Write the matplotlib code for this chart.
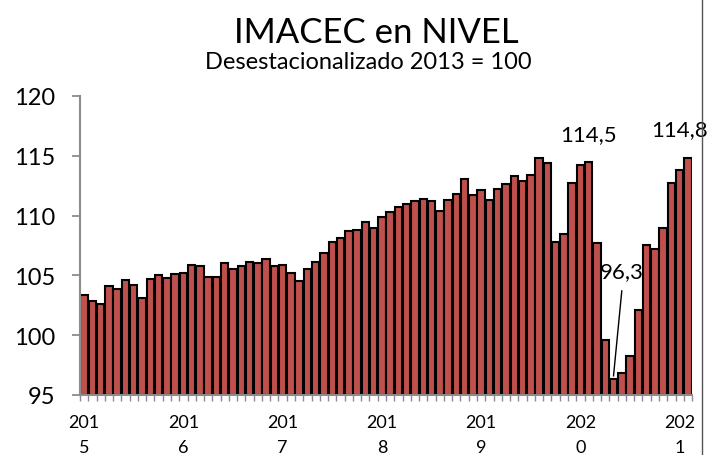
#!/usr/bin/env python3
"""IMACEC en nivel, serie desestacionalizada (2013 = 100), barras mensuales."""

import numpy as np
import matplotlib
matplotlib.use('Agg')
import matplotlib.pyplot as plt
from matplotlib.lines import Line2D

plt.rcParams['font.family'] = ['Lato', 'DejaVu Sans']

# valores mensuales ene-2015 .. feb-2021
v2015 = [103.4, 102.9, 102.6, 104.1, 103.9, 104.6, 104.2, 103.1, 104.7, 105.0, 104.8, 105.1]
v2016 = [105.2, 105.9, 105.8, 104.9, 104.9, 106.0, 105.5, 105.8, 106.1, 106.0, 106.4, 105.8]
v2017 = [105.9, 105.2, 104.5, 105.5, 106.1, 106.9, 107.8, 108.1, 108.7, 108.8, 109.5, 109.0]
v2018 = [109.9, 110.3, 110.7, 111.0, 111.2, 111.4, 111.2, 110.4, 111.3, 111.8, 113.1, 111.7]
v2019 = [112.1, 111.3, 112.2, 112.6, 113.3, 112.9, 113.4, 114.8, 114.4, 107.8, 108.5, 112.7]
v2020 = [114.2, 114.5, 107.7, 99.6, 96.3, 96.8, 98.3, 102.1, 107.5, 107.2, 109.0, 112.7]
v2021 = [113.8, 114.8]
values = v2015 + v2016 + v2017 + v2018 + v2019 + v2020 + v2021

year_labels = ['201\n5', '201\n6', '201\n7', '201\n8', '201\n9', '202\n0', '202\n1']

# etiquetas de datos: (indice, texto)
lbl_feb20 = (61, '114,5')
lbl_may20 = (64, '96,3')
lbl_last = (73, '114,8')


def main():
    n = len(values)
    x = np.arange(n)

    fig = plt.figure(figsize=(7.27, 4.56), dpi=100)
    ax = fig.add_axes([0.110, 0.1316, 0.842, 0.6557])

    ax.bar(x, np.array(values) - 95, bottom=95, width=0.9,
           color='#C0504D', edgecolor='black', linewidth=1.5)

    ax.set_xlim(-0.5, n - 0.5)
    ax.set_ylim(95, 120)
    ax.set_yticks(np.arange(95, 121, 5))
    ax.tick_params(axis='y', labelsize=17, length=6, width=1.3, color='#8c8c8c', pad=12)

    ax.set_xticks(np.arange(0, n, 12))
    ax.set_xticklabels(year_labels, fontsize=13, linespacing=1.65)
    ax.set_xticks(np.arange(-0.5, n, 1), minor=True)
    ax.tick_params(axis='x', which='major', length=0, pad=14)
    ax.tick_params(axis='x', which='minor', length=4, width=1, color='#8c8c8c')

    for s in ['top', 'right']:
        ax.spines[s].set_visible(False)
    for s in ['left', 'bottom']:
        ax.spines[s].set_color('#8c8c8c')
        ax.spines[s].set_linewidth(1.5)

    # etiquetas de datos
    i, t = lbl_feb20
    ax.text(i, values[i] + 2.3, t, ha='center', va='center', fontsize=16)
    i, t = lbl_last
    ax.text(i - 1, values[i] + 2.4, t, ha='center', va='center', fontsize=16)
    i, t = lbl_may20
    ax.text(i + 1, 105.4, t, ha='center', va='center', fontsize=16)
    ax.plot([i + 1, i], [103.7, values[i] + 0.3], color='black', lw=1)

    fig.text(0.517, 0.927, 'IMACEC en NIVEL', ha='center', va='center', fontsize=25)
    fig.text(0.506, 0.862, 'Desestacionalizado 2013 = 100', ha='center', va='center', fontsize=17)

    # borde derecho del recuadro
    fig.add_artist(Line2D([0.9656, 0.9656], [0, 1], transform=fig.transFigure,
                          color='#555555', lw=1))

    fig.savefig('out.png', dpi=100)
    plt.close(fig)


if __name__ == '__main__':
    main()
